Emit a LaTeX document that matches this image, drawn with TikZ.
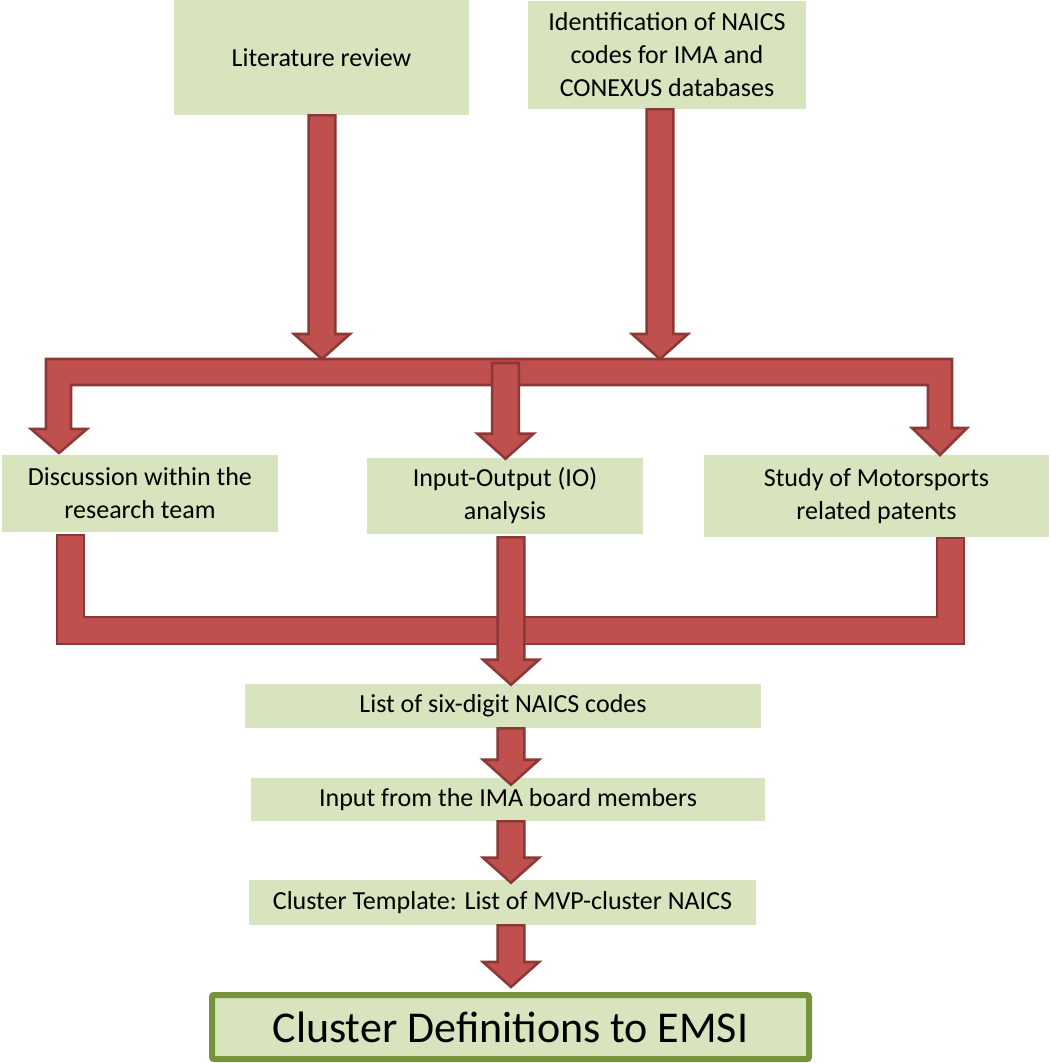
\documentclass[tikz,border=0pt]{standalone}
\usepackage{fontspec}
\setmainfont{Carlito}
\usetikzlibrary{calc}
\definecolor{boxfill}{HTML}{D7E4BD}
\definecolor{arrfill}{HTML}{C0504D}
\definecolor{arrline}{HTML}{8C3836}
\definecolor{defline}{HTML}{77933C}
\tikzset{
  box/.style={fill=boxfill, draw=none, inner sep=0pt, align=center,
    font=\fontsize{19.5}{24.75}\selectfont},
  defbox/.style={fill=boxfill, draw=defline, line width=4.5pt, rounded corners=1.5pt,
    inner sep=0pt, align=center, font=\fontsize{33}{39}\selectfont},
  arr/.style={fill=arrfill, draw=arrline, line width=1.9pt, line join=miter},
}
% block arrow pointing down: from start point #1 down to tip level of #2
\newcommand\bdown[2]{%
  \path[arr] let \p1=#1, \p2=#2 in
    (\x1-10.1pt,\y1) -- (\x1+10.1pt,\y1) -- (\x1+10.1pt,\y2+18.75pt) --
    (\x1+21pt,\y2+18.75pt) -- (\x1,\y2) -- (\x1-21pt,\y2+18.75pt) --
    (\x1-10.1pt,\y2+18.75pt) -- cycle;}
\begin{document}
\begin{tikzpicture}[x=0.75pt,y=-0.75pt]
\useasboundingbox (0,0) rectangle (1049,1063);

% boxes
\node[box, minimum width=221.25pt, minimum height=86.25pt] (lit) at (321.5,57.5) {Literature review};
\node[box, minimum width=208.5pt, minimum height=81pt] (ident) at (667,55) {Identification of NAICS\\codes for IMA and\\CONEXUS databases};
\node[box, minimum width=207pt, minimum height=57.75pt] (disc) at (140,493.5) {Discussion within the\\research team};
\node[box, minimum width=207pt, minimum height=57pt] (io) at (505,496) {Input-Output (IO)\\analysis};
\node[box, minimum width=258.75pt, minimum height=61.5pt] (study) at (876.5,496) {Study of Motorsports\\related patents};
\node[box, minimum width=387pt, minimum height=33pt] (list) at (503,706) {List of six-digit NAICS codes};
\node[box, minimum width=385.5pt, minimum height=32.25pt] (input) at (508,799.5) {Input from the IMA board members};
\node[box, minimum width=380.25pt, minimum height=33.75pt] (templ) at (502.5,902.5) {Cluster Template: List of MVP-cluster NAICS};
\node[defbox, minimum width=447.75pt, minimum height=48pt] (defs) at (510.5,1027) {Cluster Definitions to EMSI};

% named points of the two bus bars
\coordinate (topbus) at (322,359);
\coordinate (botbus) at (511,617);

% top bus: bar with left and right down-branches
\path[arr] (46,359) -- (952,359) -- (952,428) -- (967,428) -- (940,455) -- (912,428)
  -- (928,428) -- (928,385) -- (71,385) -- (71,429) -- (87,429) -- (59,453)
  -- (31,429) -- (46,429) -- cycle;

% bottom bus: U shape collecting the three boxes
\path[arr] (57,535) -- (84,535) -- (84,617) -- (937,617) -- (937,538) -- (964,538)
  -- (964,644) -- (57,644) -- cycle;

% arrows into the top bus
\bdown{($(lit.south)+(0.5,0)$)}{(topbus)}
\bdown{($(ident.south)+(-7,0)$)}{(topbus)}
% middle branch of the top bus
\coordinate (mid1) at (505.5,363);
\bdown{(mid1)}{($(io.north)+(0,1)$)}
% middle arrow from IO through the bottom bus to the list
\bdown{($(io.south)+(6,3)$)}{($(list.north)+(0,1)$)}
% lower chain
\bdown{($(list.south)+(8,0)$)}{($(input.north)+(0,7)$)}
\bdown{($(input.south)+(3,0)$)}{($(templ.north)+(0,3)$)}
\bdown{($(templ.south)+(8.5,0)$)}{($(defs.north)+(0,-5)$)}
\end{tikzpicture}
\end{document}
